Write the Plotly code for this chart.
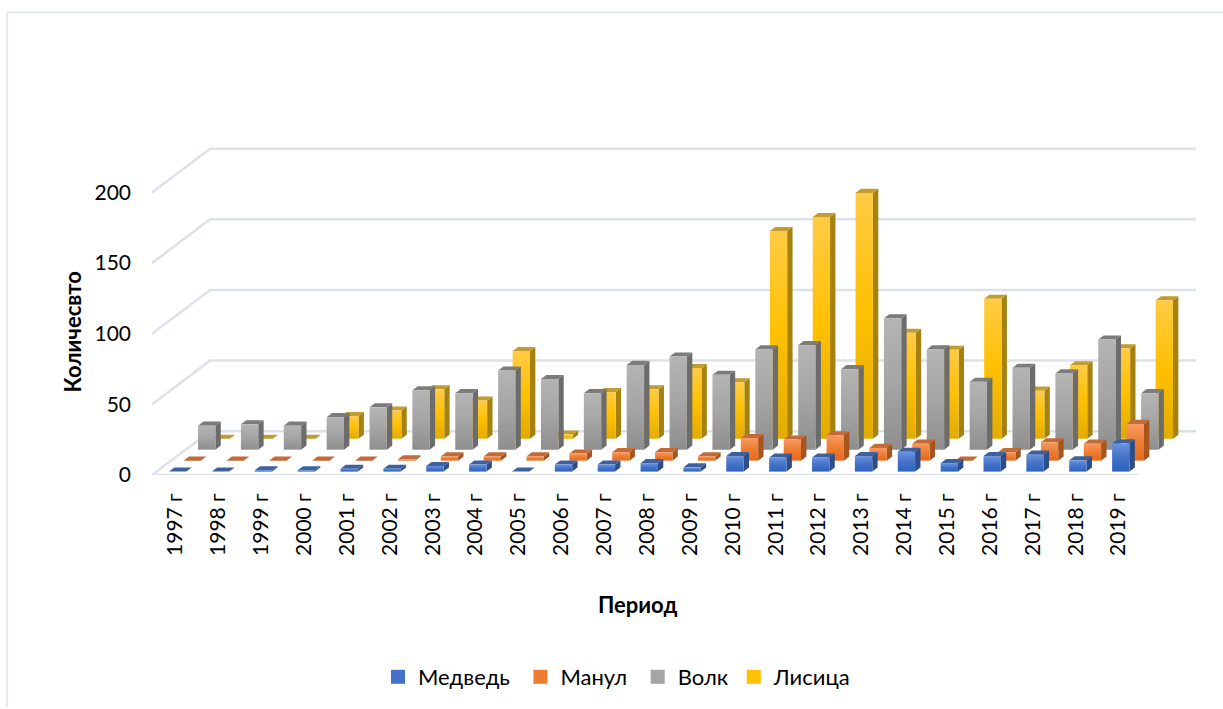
import plotly.graph_objects as go

years = [f"{y} г" for y in range(1997, 2020)]
bear = [0, 0, 1, 1, 2, 2, 4, 5, 0, 5, 5, 6, 3, 11, 10, 10, 11, 14, 6, 11, 12, 8, 20]
manul = [0, 0, 0, 0, 0, 1, 3, 3, 3, 5, 6, 6, 3, 16, 15, 18, 9, 12, 0, 6, 13, 12, 26]
wolf = [17, 18, 17, 23, 30, 42, 40, 56, 50, 40, 60, 66, 53, 71, 74, 57, 93, 71, 48, 58, 54, 78, 40]
fox = [0, 0, 0, 16, 20, 35, 27, 62, 3, 33, 35, 50, 40, 147, 157, 174, 75, 63, 99, 34, 52, 64, 98]

names = ["Медведь", "Манул", "Волк", "Лисица"]
legend_pad = ["\u00a0", "\u00a0", "", ""]
series = [bear, manul, wolf, fox]
front_colors = [
    ["#6A93DE", "#4472C8", "#2F62BE"],
    ["#F79A62", "#ED7D31", "#E8691C"],
    ["#B4B4B4", "#A5A5A5", "#8E8E8E"],
    ["#FFCB45", "#FFC000", "#E2AB00"],
]
side_colors = ["#2C4E8C", "#A8541F", "#6C6C6C", "#A5820F"]
top_colors = ["#3E609F", "#C26B39", "#7C7C7C", "#C29C2E"]

yticks = [0, 50, 100, 150, 200]
GRID = "#DDE1EA"
FONT = "Lato, 'Open Sans', sans-serif"

# plot-area geometry (pixels of the 1223x709 page)
W, H = 1223, 709
L, R = 152, 1196
B = 476
YMAX = 240
T = 136
PX_PER_UNIT = (B - T) / YMAX
SLOT = 42.83

# oblique depth, per series row, in axis units
DX = 14.5 / SLOT
DY = 11.0 / PX_PER_UNIT
ROWS = 4
GAP = 0.292          # gap before a bar, category units
BAR_W = 0.405        # bar width, category units
D_START = 0.31       # where the bar starts within its depth row
D_LEN = 0.37         # bar depth within its depth row


def proj(x, depth, v):
    return x + depth * DX, v + depth * DY


def poly(points):
    xs = [p[0] for p in points] + [points[0][0]]
    ys = [p[1] for p in points] + [points[0][1]]
    return xs, ys


fig = go.Figure()

# walls and floor gridlines
for v in yticks:
    x0, y0 = proj(0, 0, v)
    x1, y1 = proj(0, ROWS, v)
    x2, y2 = proj(len(years), ROWS, v)
    fig.add_trace(go.Scatter(x=[x0, x1, x2], y=[y0, y1, y2], mode="lines",
                             line=dict(color=GRID, width=2.5), showlegend=False,
                             hoverinfo="skip", cliponaxis=False))
fig.add_trace(go.Scatter(x=[0, len(years)], y=[0, 0], mode="lines",
                         line=dict(color=GRID, width=2.5), showlegend=False,
                         hoverinfo="skip", cliponaxis=False))

# bars, back row first
for s in range(ROWS - 1, -1, -1):
    values = series[s]
    d0 = s + D_START
    d1 = d0 + D_LEN
    sx, sy, tx, ty = [], [], [], []
    for i, v in enumerate(values):
        xa = i + GAP
        xb = xa + BAR_W
        px, py = poly([proj(xb, d0, 0), proj(xb, d1, 0), proj(xb, d1, v), proj(xb, d0, v)])
        sx += px + [None]
        sy += py + [None]
        px, py = poly([proj(xa, d0, v), proj(xb, d0, v), proj(xb, d1, v), proj(xa, d1, v)])
        tx += px + [None]
        ty += py + [None]
    fig.add_trace(go.Scatter(x=sx, y=sy, mode="lines", fill="toself", fillcolor=side_colors[s],
                             line=dict(width=0, color=side_colors[s]), showlegend=False,
                             hoverinfo="skip"))
    fig.add_trace(go.Scatter(x=tx, y=ty, mode="lines", fill="toself", fillcolor=top_colors[s],
                             line=dict(width=0, color=top_colors[s]), showlegend=False,
                             hoverinfo="skip"))
    c = front_colors[s]
    for i, v in enumerate(values):
        if v <= 0:
            continue
        xa = i + GAP
        xb = xa + BAR_W
        px, py = poly([proj(xa, d0, 0), proj(xb, d0, 0), proj(xb, d0, v), proj(xa, d0, v)])
        fig.add_trace(go.Scatter(x=px, y=py, mode="lines", fill="toself",
                                 fillgradient=dict(type="vertical",
                                                   colorscale=[[0, c[2]], [0.5, c[1]], [1, c[0]]]),
                                 line=dict(width=0, color=c[1]), showlegend=False,
                                 name=f"{names[s]} {years[i]}",
                                 hovertemplate=f"{names[s]}, {years[i]}: {v}<extra></extra>"))

# legend entries
for s in range(ROWS):
    fig.add_trace(go.Scatter(x=[None], y=[None], mode="markers", name=names[s] + legend_pad[s],
                             marker=dict(symbol="square", size=14, color=front_colors[s][1])))


def px_x(p):
    return (p - L) / (R - L)


def px_y(p):
    return (B - p) / (B - T)


fig.update_layout(
    width=W, height=H, autosize=False,
    margin=dict(l=L, r=W - R, t=T, b=H - B, pad=0),
    paper_bgcolor="white", plot_bgcolor="white",
    font=dict(family=FONT, size=21, color="black"),
    xaxis=dict(range=[0, len(years) + ROWS * DX], tickmode="array",
               tickvals=[i + 0.55 for i in range(len(years))], ticktext=years,
               tickangle=-90, showgrid=False, zeroline=False, showline=False, ticks="",
               ticklabelstandoff=13, tickfont=dict(size=21)),
    yaxis=dict(range=[0, YMAX], tickmode="array", tickvals=yticks,
               ticktext=[str(v) for v in yticks], showgrid=False, zeroline=False,
               showline=False, ticks="", ticklabelstandoff=20, tickfont=dict(size=21)),
    legend=dict(orientation="h", x=px_x(378), xanchor="left", y=px_y(677), yanchor="middle",
                font=dict(size=22), bgcolor="rgba(0,0,0,0)"),
    annotations=[
        dict(text="<b>Период</b>", x=px_x(637), y=px_y(606), xref="paper", yref="paper",
             showarrow=False, font=dict(size=22), xanchor="center", yanchor="middle"),
        dict(text="<b>Количесвто</b>", x=px_x(72), y=px_y(333), xref="paper", yref="paper",
             showarrow=False, font=dict(size=22), textangle=-90, xanchor="center", yanchor="middle"),
    ],
    shapes=[
        dict(type="line", xref="paper", yref="paper", x0=px_x(7), x1=px_x(7), y0=px_y(12), y1=px_y(709),
             line=dict(color=GRID, width=1.5)),
        dict(type="line", xref="paper", yref="paper", x0=px_x(7), x1=px_x(1223), y0=px_y(12), y1=px_y(12),
             line=dict(color=GRID, width=1.5)),
    ],
)

fig.write_html("out.html", config={"displayModeBar": False},
               post_script="document.body.style.margin='0';document.body.style.overflow='hidden';")
